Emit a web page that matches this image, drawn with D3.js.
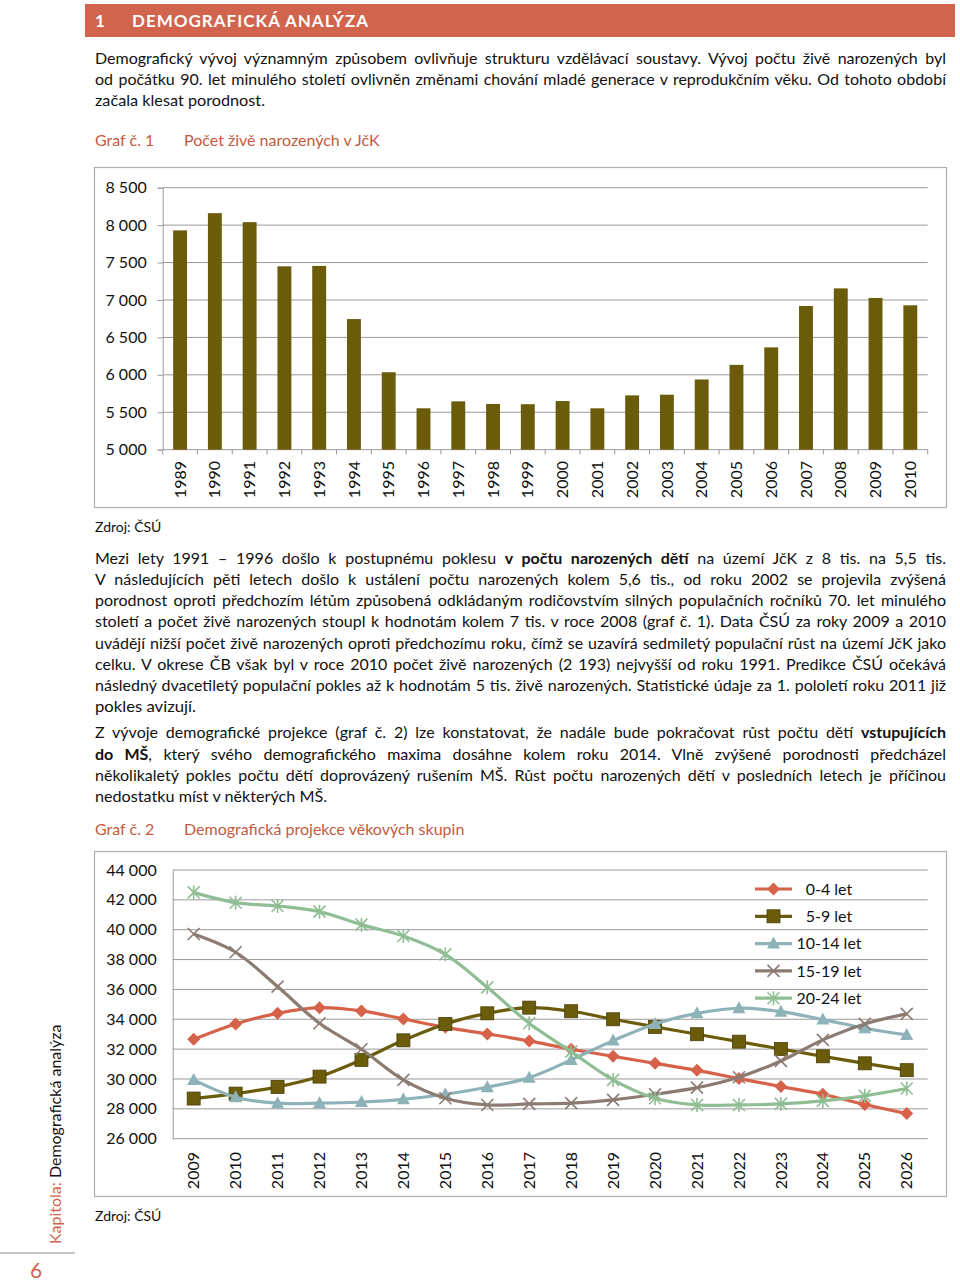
<!DOCTYPE html>
<html><head><meta charset="utf-8">
<script src="https://cdn.jsdelivr.net/npm/d3@7"></script>
<style>
html,body{margin:0;padding:0;background:#fff;}
svg text{font-family:Lato,"Open Sans",sans-serif;}
</style></head>
<body>
<script>
// ---------- data ----------
const years1 = ["1989","1990","1991","1992","1993","1994","1995","1996","1997","1998","1999","2000","2001","2002","2003","2004","2005","2006","2007","2008","2009","2010"];
const births = [7930,8160,8040,7450,7455,6745,6035,5553,5646,5611,5608,5650,5553,5726,5735,5938,6133,6367,6920,7155,7027,6929];
const yTicks1 = [5000,5500,6000,6500,7000,7500,8000,8500];

const years2 = ["2009","2010","2011","2012","2013","2014","2015","2016","2017","2018","2019","2020","2021","2022","2023","2024","2025","2026"];
const seriesNames = ["0-4 let","5-9 let","10-14 let","15-19 let","20-24 let"];
const age0_4   = [32660,33690,34400,34780,34560,34020,33460,33020,32550,31990,31520,31050,30580,30030,29490,28980,28290,27680];
const age5_9   = [28690,29020,29470,30160,31280,32590,33690,34400,34780,34540,34000,33490,33000,32500,32010,31520,31050,30590];
const age10_14 = [29940,28780,28380,28380,28460,28640,28980,29450,30090,31280,32570,33690,34400,34740,34510,33980,33400,32950];
const age15_19 = [39710,38490,36190,33730,31990,29940,28710,28260,28330,28380,28600,28980,29420,30120,31210,32620,33690,34360];
const age20_24 = [42500,41810,41590,41210,40340,39580,38350,36140,33730,31830,29940,28710,28260,28260,28330,28530,28870,29360];
const yTicks2 = [26000,28000,30000,32000,34000,36000,38000,40000,42000,44000];

// ---------- page ----------
const W = 960, H = 1283;
const svg = d3.select("body").append("svg").attr("width", W).attr("height", H);
const accent = "#D0644C", titleCol = "#C45A3F", textCol = "#111";
const fmt = d => d3.format(",")(d).replace(/,/g, " ");

// header bar
svg.append("rect").attr("x",85).attr("y",4).attr("width",870).attr("height",33).attr("fill",accent);
svg.append("text").attr("x",95).attr("y",27).attr("fill","#fff").attr("font-weight",700).attr("font-size",17).text("1");
svg.append("text").attr("x",132).attr("y",27).attr("fill","#fff").attr("font-weight",700).attr("font-size",17)
  .attr("textLength",236).attr("lengthAdjust","spacing").text("DEMOGRAFICKÁ ANALÝZA");

// text line helper (justification)
function line(x, y, segs, endX, justify, opts={}) {
  const t = svg.append("text").attr("x", x).attr("y", y).attr("font-size", opts.size || 16)
    .attr("fill", opts.fill || textCol).style("white-space","pre");
  segs.forEach(s => {
    const sp = t.append("tspan").text(s.t);
    if (s.b) sp.attr("font-weight", 700);
    if (s.fill) sp.attr("fill", s.fill);
  });
  if (endX) {
    const target = endX - x;
    const w = t.node().getComputedTextLength();
    const full = segs.map(s=>s.t).join("");
    const n = (full.match(/ /g) || []).length;
    if (justify && w < target && n > 0) {
      t.style("word-spacing", ((target - w) / n) + "px");
    } else {
      t.attr("textLength", target).attr("lengthAdjust", "spacingAndGlyphs");
    }
  }
  return t;
}
const P = t => [{t}];

// paragraph 1
line(95, 64, P("Demografický vývoj významným způsobem ovlivňuje strukturu vzdělávací soustavy. Vývoj počtu živě narozených byl"), 946, true);
line(95, 85, P("od počátku 90. let minulého století ovlivněn změnami chování mladé generace v reprodukčním věku. Od tohoto období"), 946, true);
line(95, 106, P("začala klesat porodnost."), 265, false);

// chart 1 title
svg.append("text").attr("x",95).attr("y",146).attr("font-size",16).attr("fill",titleCol).text("Graf č. 1");
svg.append("text").attr("x",184).attr("y",146).attr("font-size",16).attr("fill",titleCol).text("Počet živě narozených v JčK");

// ---------- chart 1 ----------
svg.append("rect").attr("x",94.5).attr("y",167.5).attr("width",852).attr("height",340)
  .attr("fill","none").attr("stroke","#B0B0B0").attr("stroke-width",1.2);
const x1 = d3.scaleBand().domain(years1).range([162.7, 927.7]).paddingInner(0.6).paddingOuter(0.3);
const y1 = d3.scaleLinear().domain([5000, 8500]).range([449.7, 187.7]);
const g1 = svg.append("g");
g1.selectAll("line.grid").data(yTicks1).join("line").attr("class","grid")
  .attr("x1",162.7).attr("x2",927.7).attr("y1",d=>y1(d)).attr("y2",d=>y1(d))
  .attr("stroke","#9a9a9a").attr("stroke-width",1);
const ax1 = g1.append("g").attr("transform","translate(162.7,0)")
  .call(d3.axisLeft(y1).tickValues(yTicks1).tickSize(5).tickPadding(11).tickFormat(fmt));
ax1.select(".domain").attr("stroke","#9a9a9a");
ax1.selectAll(".tick line").attr("stroke","#9a9a9a");
ax1.selectAll("text").attr("font-size",16).attr("fill","#111").style("font-family","Lato");
g1.selectAll("rect.bar").data(births).join("rect").attr("class","bar")
  .attr("x",(d,i)=>x1(years1[i])).attr("width",x1.bandwidth())
  .attr("y",d=>y1(d)).attr("height",d=>y1(5000)-y1(d)).attr("fill","#6B5C0C");
// x ticks at boundaries
const step1 = x1.step();
g1.selectAll("line.xt").data(d3.range(years1.length+1)).join("line").attr("class","xt")
  .attr("x1",i=>162.7+i*step1).attr("x2",i=>162.7+i*step1).attr("y1",449.7).attr("y2",454.5)
  .attr("stroke","#9a9a9a");
g1.selectAll("text.xl").data(years1).join("text").attr("class","xl")
  .attr("transform",d=>`translate(${x1(d)+x1.bandwidth()/2},461) rotate(-90)`)
  .attr("text-anchor","end").attr("dy","0.35em").attr("font-size",16).attr("fill","#111").text(d=>d);

svg.append("text").attr("x",95).attr("y",532).attr("font-size",14).attr("fill","#111").text("Zdroj: ČSÚ");

// paragraph 2
const p2 = [
  [{t:"Mezi lety 1991 – 1996 došlo k postupnému poklesu "},{t:"v počtu narozených dětí",b:1},{t:" na území JčK z 8 tis. na 5,5 tis."}],
  P("V následujících pěti letech došlo k ustálení počtu narozených kolem 5,6 tis., od roku 2002 se projevila zvýšená"),
  P("porodnost oproti předchozím létům způsobená odkládaným rodičovstvím silných populačních ročníků 70. let minulého"),
  P("století a počet živě narozených stoupl k hodnotám kolem 7 tis. v roce 2008 (graf č. 1). Data ČSÚ za roky 2009 a 2010"),
  P("uvádějí nižší počet živě narozených oproti předchozímu roku, čímž se uzavírá sedmiletý populační růst na území JčK jako"),
  P("celku. V okrese ČB však byl v roce 2010 počet živě narozených (2 193) nejvyšší od roku 1991. Predikce ČSÚ očekává"),
  P("následný dvacetiletý populační pokles až k hodnotám 5 tis. živě narozených. Statistické údaje za 1. pololetí roku 2011 již"),
];
const p2y = [564,585,606,627,649,670,691];
p2.forEach((s,i)=>line(95,p2y[i],s,946,true));
line(95,712,P("pokles avizují."),196,false);

// paragraph 3
line(95,738,[{t:"Z vývoje demografické projekce (graf č. 2) lze konstatovat, že nadále bude pokračovat růst počtu dětí "},{t:"vstupujících",b:1}],946,true);
line(95,760,[{t:"do MŠ",b:1},{t:", který svého demografického maxima dosáhne kolem roku 2014. Vlně zvýšené porodnosti předcházel"}],946,true);
line(95,781,P("několikaletý pokles počtu dětí doprovázený rušením MŠ. Růst počtu narozených dětí v posledních letech je příčinou"),946,true);
line(95,802,P("nedostatku míst v některých MŠ."),327,false);

svg.append("text").attr("x",95).attr("y",835).attr("font-size",16).attr("fill",titleCol).text("Graf č. 2");
svg.append("text").attr("x",184).attr("y",835).attr("font-size",16).attr("fill",titleCol).text("Demografická projekce věkových skupin");

// ---------- chart 2 ----------
svg.append("rect").attr("x",94.5).attr("y",851.5).attr("width",852).attr("height",345)
  .attr("fill","none").attr("stroke","#B0B0B0").attr("stroke-width",1.2);
const x2 = d3.scaleBand().domain(years2).range([172.7, 927.7]);
const cx = d => x2(d) + x2.bandwidth()/2;
const y2 = d3.scaleLinear().domain([26000,44000]).range([1138.7, 870]);
const g2 = svg.append("g");
g2.selectAll("line.grid").data(yTicks2).join("line").attr("class","grid")
  .attr("x1",172.7).attr("x2",927.7).attr("y1",d=>y2(d)).attr("y2",d=>y2(d))
  .attr("stroke","#9a9a9a").attr("stroke-width",1);
const ax2 = g2.append("g").attr("transform","translate(172.7,0)")
  .call(d3.axisLeft(y2).tickValues(yTicks2).tickSize(0).tickPadding(16).tickFormat(fmt));
ax2.select(".domain").attr("stroke","#9a9a9a");
ax2.selectAll("text").attr("font-size",16).attr("fill","#111").style("font-family","Lato");
g2.selectAll("text.xl").data(years2).join("text").attr("class","xl")
  .attr("transform",d=>`translate(${cx(d)},1152) rotate(-90)`)
  .attr("text-anchor","end").attr("dy","0.35em").attr("font-size",16).attr("fill","#111").text(d=>d);

const colors = ["#D6624A","#6B5C0C","#8DB2B8","#8C7B72","#90BE94"];
const allSeries = [age0_4, age5_9, age10_14, age15_19, age20_24];
const markers = ["diamond","square","triangle","x","star"];
function marker(g, type, x, y, col) {
  if (type==="diamond") g.append("path").attr("d",`M${x},${y-6.5}L${x+6.5},${y}L${x},${y+6.5}L${x-6.5},${y}Z`).attr("fill",col);
  else if (type==="square") g.append("rect").attr("x",x-6.5).attr("y",y-6.5).attr("width",13).attr("height",13).attr("fill",col).attr("stroke","#4a3f05").attr("stroke-width",0.8);
  else if (type==="triangle") g.append("path").attr("d",`M${x},${y-7}L${x+6.5},${y+5}L${x-6.5},${y+5}Z`).attr("fill",col);
  else if (type==="x") g.append("path").attr("d",`M${x-6},${y-6}L${x+6},${y+6}M${x-6},${y+6}L${x+6},${y-6}`).attr("stroke",col).attr("stroke-width",1.6);
  else g.append("path").attr("d",`M${x-6},${y-6}L${x+6},${y+6}M${x-6},${y+6}L${x+6},${y-6}M${x},${y-7}L${x},${y+7}`).attr("stroke",col).attr("stroke-width",1.6);
}
const lineGen = d3.line().x((d,i)=>cx(years2[i])).y(d=>y2(d)).curve(d3.curveCatmullRom.alpha(0.5));
allSeries.forEach((s,k)=>{
  const gs = g2.append("g");
  gs.append("path").attr("d",lineGen(s)).attr("fill","none").attr("stroke",colors[k]).attr("stroke-width",3.2);
  s.forEach((v,i)=>marker(gs, markers[k], cx(years2[i]), y2(v), colors[k]));
});
// legend
const legY = [889, 916.3, 943.6, 970.9, 998.2];
seriesNames.forEach((n,k)=>{
  const gl = svg.append("g");
  gl.append("line").attr("x1",755).attr("x2",792).attr("y1",legY[k]).attr("y2",legY[k]).attr("stroke",colors[k]).attr("stroke-width",3.2);
  marker(gl, markers[k], 773.5, legY[k], colors[k]);
  gl.append("text").attr("x",829).attr("y",legY[k]).attr("dy","0.35em").attr("text-anchor","middle")
    .attr("font-size",16).attr("fill","#111").text(n);
});

svg.append("text").attr("x",95).attr("y",1221).attr("font-size",14).attr("fill","#111").text("Zdroj: ČSÚ");

// sidebar
const side = svg.append("text").attr("transform","translate(61,1244) rotate(-90)").attr("font-size",16).attr("fill","#111");
side.append("tspan").attr("fill",accent).text("Kapitola: ");
side.append("tspan").text("Demografická analýza");
svg.append("line").attr("x1",0).attr("x2",75).attr("y1",1253).attr("y2",1253).attr("stroke","#8a8a8a").attr("stroke-width",1.2);
svg.append("text").attr("x",36).attr("y",1278).attr("text-anchor","middle").attr("font-size",21).attr("fill",accent).text("6");
</script>
</body></html>
